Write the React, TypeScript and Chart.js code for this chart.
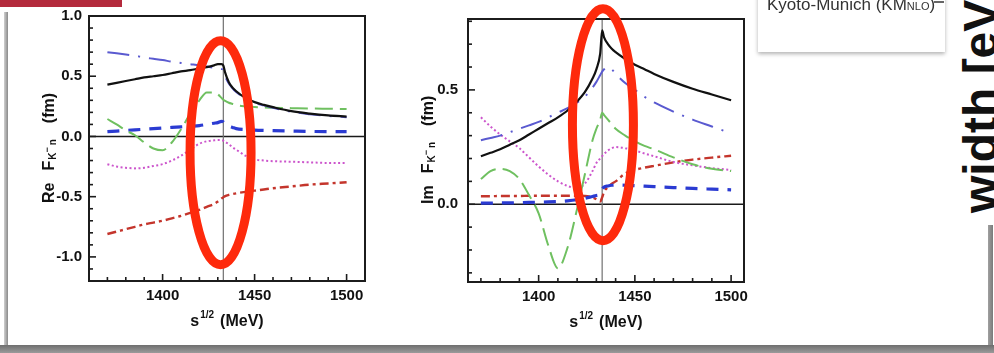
import React, { useEffect, useRef } from 'react';
import { Chart, registerables } from 'chart.js';

Chart.register(...registerables);

// ---------------- data ----------------
const energies = [1370, 1375, 1380, 1385, 1390, 1395, 1400, 1405, 1410, 1415, 1420, 1424, 1428, 1430, 1432, 1433, 1434, 1436, 1438, 1440, 1445, 1450, 1455, 1460, 1470, 1480, 1490, 1500];

// Real part (fm)
const reTotal = [0.43, 0.445, 0.46, 0.475, 0.49, 0.5, 0.51, 0.525, 0.54, 0.55, 0.565, 0.575, 0.59, 0.6, 0.6, 0.59, 0.53, 0.45, 0.405, 0.375, 0.32, 0.285, 0.262, 0.243, 0.21, 0.19, 0.175, 0.165];
const reDashDot = [0.7, 0.69, 0.68, 0.67, 0.655, 0.645, 0.635, 0.62, 0.61, 0.6, 0.59, 0.58, 0.57, 0.565, 0.56, 0.55, 0.5, 0.44, 0.4, 0.37, 0.315, 0.28, 0.258, 0.238, 0.205, 0.185, 0.17, 0.16];
const reLongDash = [0.145, 0.1, 0.05, 0.01, -0.05, -0.1, -0.115, -0.05, 0.06, 0.19, 0.3, 0.365, 0.365, 0.35, 0.32, 0.305, 0.295, 0.28, 0.27, 0.26, 0.25, 0.245, 0.24, 0.238, 0.235, 0.232, 0.23, 0.228];
const reDashed = [0.04, 0.045, 0.05, 0.055, 0.06, 0.065, 0.07, 0.075, 0.08, 0.085, 0.09, 0.1, 0.11, 0.115, 0.125, 0.12, 0.1, 0.085, 0.075, 0.065, 0.058, 0.053, 0.05, 0.048, 0.045, 0.042, 0.04, 0.04];
const reDotted = [-0.23, -0.25, -0.26, -0.265, -0.26, -0.245, -0.23, -0.2, -0.16, -0.11, -0.06, -0.04, -0.032, -0.03, -0.03, -0.035, -0.045, -0.065, -0.09, -0.11, -0.16, -0.19, -0.2, -0.205, -0.21, -0.215, -0.22, -0.22];
const reDashDotRed = [-0.81, -0.79, -0.77, -0.75, -0.73, -0.715, -0.7, -0.68, -0.66, -0.635, -0.61, -0.585, -0.56, -0.54, -0.515, -0.505, -0.495, -0.485, -0.478, -0.472, -0.46, -0.45, -0.44, -0.43, -0.415, -0.4, -0.39, -0.38];

// Imaginary part (fm)
const imTotal = [0.21, 0.225, 0.24, 0.26, 0.28, 0.305, 0.33, 0.355, 0.38, 0.41, 0.45, 0.49, 0.55, 0.59, 0.66, 0.76, 0.73, 0.7, 0.68, 0.665, 0.635, 0.61, 0.59, 0.57, 0.535, 0.505, 0.48, 0.455];
const imDashDot = [0.28, 0.29, 0.3, 0.315, 0.33, 0.345, 0.36, 0.38, 0.4, 0.42, 0.445, 0.47, 0.51, 0.535, 0.565, 0.58, 0.59, 0.6, 0.59, 0.57, 0.53, 0.5, 0.47, 0.445, 0.405, 0.37, 0.34, 0.31];
const imLongDash = [0.11, 0.145, 0.155, 0.145, 0.11, 0.04, -0.04, -0.18, -0.28, -0.19, -0.02, 0.13, 0.28, 0.33, 0.37, 0.4, 0.39, 0.37, 0.35, 0.33, 0.3, 0.275, 0.255, 0.24, 0.205, 0.175, 0.155, 0.145];
const imDashed = [0.005, 0.005, 0.006, 0.006, 0.007, 0.008, 0.009, 0.01, 0.012, 0.015, 0.02, 0.026, 0.034, 0.038, 0.045, 0.065, 0.075, 0.08, 0.083, 0.084, 0.083, 0.081, 0.079, 0.077, 0.073, 0.069, 0.066, 0.063];
const imDotted = [0.38, 0.34, 0.305, 0.275, 0.245, 0.205, 0.165, 0.13, 0.1, 0.08, 0.07, 0.09, 0.145, 0.18, 0.2, 0.21, 0.22, 0.235, 0.245, 0.25, 0.245, 0.235, 0.222, 0.21, 0.185, 0.17, 0.158, 0.15];
const imDashDotRed = [0.035, 0.035, 0.036, 0.036, 0.036, 0.037, 0.037, 0.037, 0.037, 0.037, 0.037, 0.036, 0.03, 0.022, 0.012, 0.03, 0.055, 0.075, 0.09, 0.1, 0.135, 0.15, 0.16, 0.168, 0.183, 0.195, 0.204, 0.212];

const xTickValues = [1400, 1450, 1500];
const reTickValues = [-1.0, -0.5, 0.0, 0.5, 1.0];
const imTickValues = [0.0, 0.5];
const thresholdEnergy = 1433;

// ---------------- styles ----------------
const seriesStyles = [
  { color: '#111111', width: 2.2, dash: [] as number[] },
  { color: '#5a5ad0', width: 2, dash: [22, 9, 2, 9] },
  { color: '#6fc060', width: 2, dash: [18, 7] },
  { color: '#2b3bd2', width: 3.2, dash: [12, 9] },
  { color: '#cc55cc', width: 2, dash: [2, 2.5] },
  { color: '#c4352c', width: 2.4, dash: [9, 4, 3, 4] },
];

function fontAvailable(name: string) {
  try {
    const ctx = document.createElement('canvas').getContext('2d')!;
    const s = 'mwil1400(MeV)Re';
    ctx.font = '40px monospace';
    const a = ctx.measureText(s).width;
    ctx.font = `40px "${name}", monospace`;
    const b = ctx.measureText(s).width;
    return Math.abs(a - b) > 0.5;
  } catch {
    return false;
  }
}

type Part = { t: string; size: number; dy?: number; gap?: number };

function drawParts(ctx: CanvasRenderingContext2D, fam: string, parts: Part[]) {
  let u = 0;
  for (const p of parts) {
    u += p.gap || 0;
    ctx.font = `bold ${p.size}px ${fam}`;
    ctx.fillText(p.t, u, p.dy || 0);
    u += ctx.measureText(p.t).width;
  }
  return u;
}

function partsWidth(ctx: CanvasRenderingContext2D, fam: string, parts: Part[]) {
  let u = 0;
  for (const p of parts) {
    u += p.gap || 0;
    ctx.font = `bold ${p.size}px ${fam}`;
    u += ctx.measureText(p.t).width;
  }
  return u;
}

type Panel = {
  series: number[][];
  xMin: number; xMax: number;
  yMin: number; yMax: number;
  yTicks: number[];
  yAxisWidth: number; xAxisHeight: number; padRight: number; yLabelPad: number;
  yTitle: Part[];
  ellipse: { e: number; v: number; rx: number; ry: number };
};

function buildChart(canvas: HTMLCanvasElement, p: Panel, fam: string, narrow: boolean) {
  const tickSize = narrow ? 17 : 15;
  const titleSize = narrow ? 18 : 16;

  const decor = {
    id: 'panelDecor',
    beforeDatasetsDraw(chart: any) {
      const { ctx, chartArea: a, scales } = chart;
      const x = scales.x, y = scales.y;
      ctx.save();
      const y0 = y.getPixelForValue(0);
      ctx.strokeStyle = '#1a1a1a';
      ctx.lineWidth = 1.5;
      ctx.beginPath(); ctx.moveTo(a.left, y0); ctx.lineTo(a.right, y0); ctx.stroke();
      const xt = x.getPixelForValue(thresholdEnergy);
      ctx.strokeStyle = '#707070';
      ctx.lineWidth = 1.2;
      ctx.beginPath(); ctx.moveTo(xt, a.top); ctx.lineTo(xt, a.bottom); ctx.stroke();
      ctx.restore();
    },
    afterDatasetsDraw(chart: any) {
      const { ctx, chartArea: a, scales } = chart;
      const x = scales.x, y = scales.y;
      ctx.save();
      ctx.strokeStyle = '#1c1c1c';
      ctx.lineWidth = 1.6;
      // minor / major ticks, inward
      for (let k = Math.ceil(p.yMin * 10 - 1e-6); k <= Math.floor(p.yMax * 10 + 1e-6); k++) {
        const py = y.getPixelForValue(k / 10);
        const len = k % 5 === 0 ? 7 : 4;
        ctx.beginPath(); ctx.moveTo(a.left, py); ctx.lineTo(a.left + len, py); ctx.stroke();
      }
      for (let e = 1370; e <= 1500; e += 10) {
        const px = x.getPixelForValue(e);
        const len = e % 50 === 0 ? 7 : 4;
        ctx.beginPath(); ctx.moveTo(px, a.bottom); ctx.lineTo(px, a.bottom - len); ctx.stroke();
      }
      // frame
      ctx.lineWidth = 2;
      ctx.strokeRect(a.left, a.top, a.right - a.left, a.bottom - a.top);
      ctx.restore();
    },
    afterDraw(chart: any) {
      const { ctx, chartArea: a, scales } = chart;
      const x = scales.x, y = scales.y;
      ctx.save();
      ctx.fillStyle = '#111';
      ctx.textAlign = 'left';
      ctx.textBaseline = 'alphabetic';
      // y title
      ctx.save();
      ctx.translate(a.left - 35, a.bottom - 78);
      ctx.rotate(-Math.PI / 2);
      drawParts(ctx, fam, p.yTitle);
      ctx.restore();
      // x title
      const xParts: Part[] = [
        { t: 's', size: titleSize },
        { t: '1/2', size: 10, dy: -8, gap: 1 },
        { t: '(MeV)', size: titleSize, gap: 6 },
      ];
      const w = partsWidth(ctx, fam, xParts);
      ctx.save();
      ctx.translate((a.left + a.right) / 2 - w / 2, a.bottom + 45);
      drawParts(ctx, fam, xParts);
      ctx.restore();
      // highlight ellipse
      const cx = x.getPixelForValue(p.ellipse.e);
      const cy = y.getPixelForValue(p.ellipse.v);
      ctx.strokeStyle = '#fe2a0c';
      ctx.lineWidth = 9;
      ctx.beginPath();
      ctx.ellipse(cx, cy, p.ellipse.rx, p.ellipse.ry, 0, 0, Math.PI * 2);
      ctx.stroke();
      ctx.restore();
    },
  };

  return new Chart(canvas, {
    type: 'line',
    data: {
      datasets: p.series.map((vals, i) => ({
        data: energies.map((e, j) => ({ x: e, y: vals[j] })),
        borderColor: seriesStyles[i].color,
        borderWidth: seriesStyles[i].width,
        borderDash: seriesStyles[i].dash,
        pointRadius: 0,
        fill: false,
        cubicInterpolationMode: 'monotone' as const,
      })),
    },
    options: {
      responsive: false,
      animation: false,
      devicePixelRatio: 1,
      events: [],
      layout: { padding: { left: 0, top: 14, right: p.padRight, bottom: 0 } },
      plugins: { legend: { display: false }, tooltip: { enabled: false }, title: { display: false } },
      scales: {
        x: {
          type: 'linear',
          min: p.xMin,
          max: p.xMax,
          grid: { display: false, drawTicks: false },
          border: { display: false },
          ticks: {
            font: { family: fam, size: tickSize, weight: 'bold' },
            color: '#111',
            padding: 6,
            maxRotation: 0,
            autoSkip: false,
            callback: (v: any) => String(v),
          },
          afterBuildTicks: (ax: any) => { ax.ticks = xTickValues.map((v) => ({ value: v })); },
          afterFit: (ax: any) => { ax.height = p.xAxisHeight; },
        },
        y: {
          type: 'linear',
          min: p.yMin,
          max: p.yMax,
          grid: { display: false, drawTicks: false },
          border: { display: false },
          ticks: {
            font: { family: fam, size: tickSize, weight: 'bold' },
            color: '#111',
            padding: p.yLabelPad,
            autoSkip: false,
            callback: (v: any) => Number(v).toFixed(1),
          },
          afterBuildTicks: (ax: any) => { ax.ticks = p.yTicks.map((v) => ({ value: v })); },
          afterFit: (ax: any) => { ax.width = p.yAxisWidth; },
        },
      },
    },
    plugins: [decor],
  } as any);
}

export default function App() {
  const leftRef = useRef<HTMLCanvasElement>(null);
  const rightRef = useRef<HTMLCanvasElement>(null);

  useEffect(() => {
    const narrow = fontAvailable('Liberation Sans Narrow');
    const fam = narrow ? '"Liberation Sans Narrow", "Liberation Sans", Arial, sans-serif' : '"Liberation Sans", Arial, sans-serif';
    const ts = narrow ? 18 : 16;
    const sub = narrow ? 11 : 10;
    const mkTitle = (head: string): Part[] => [
      { t: head, size: ts },
      { t: 'F', size: ts, gap: 12 },
      { t: 'K', size: sub, dy: 2, gap: 1 },
      { t: '\u2212', size: 9, dy: -4 },
      { t: 'n', size: sub, dy: 2, gap: 2 },
      { t: '(fm)', size: ts, gap: 16 },
    ];
    const left = buildChart(leftRef.current!, {
      series: [reTotal, reDashDot, reLongDash, reDashed, reDotted, reDashDotRed],
      xMin: 1360, xMax: 1510, yMin: -1.2, yMax: 1.0,
      yTicks: reTickValues,
      yAxisWidth: 89, xAxisHeight: 72, padRight: 15, yLabelPad: 7,
      yTitle: mkTitle('Re'),
      ellipse: { e: 1431.5, v: -0.135, rx: 30.5, ry: 112 },
    }, fam, narrow);
    const right = buildChart(rightRef.current!, {
      series: [imTotal, imDashDot, imLongDash, imDashed, imDotted, imDashDotRed],
      xMin: 1363.3, xMax: 1506.7, yMin: -0.34, yMax: 0.81,
      yTicks: imTickValues,
      yAxisWidth: 88, xAxisHeight: 71, padRight: 16, yLabelPad: 10,
      yTitle: mkTitle('Im'),
      ellipse: { e: 1433.4, v: 0.348, rx: 30.5, ry: 116 },
    }, fam, narrow);
    return () => { left.destroy(); right.destroy(); };
  }, []);

  const abs = (s: React.CSSProperties): React.CSSProperties => ({ position: 'absolute', ...s });

  return (
    <div style={{ position: 'fixed', left: 0, top: 0, width: 994, height: 353, overflow: 'hidden', background: '#ffffff' }}>
      {/* slide frame */}
      <div style={abs({ left: 0, top: 0, width: 122, height: 7, background: '#b42a3c' })} />
      <div style={abs({ left: 4, top: 12, width: 4, height: 336, background: 'linear-gradient(to right, #d0d0d0, #8a8a8a)' })} />
      <div style={abs({ left: 988, top: 225, width: 5, height: 123, background: 'linear-gradient(to right, #a0a0a0, #7a7a7a)' })} />
      <div style={abs({ left: 0, top: 345, width: 994, height: 8, background: 'linear-gradient(#6e6e6e, #9a9a9a)' })} />

      <canvas ref={leftRef} width={380} height={353} style={abs({ left: 0, top: 0, width: 380, height: 353 })} />
      <canvas ref={rightRef} width={380} height={353} style={abs({ left: 380, top: 0, width: 380, height: 353 })} />

      {/* legend box (cut off at the top) */}
      <div style={abs({ left: 758, top: -20, width: 187, height: 72, background: '#ffffff', boxShadow: '0 2px 4px rgba(0,0,0,0.3)' })} />
      <div style={abs({ left: 767, top: -4, font: '17px "Liberation Sans", Arial, sans-serif', lineHeight: '17px', color: '#333', whiteSpace: 'nowrap' })}>
        Kyoto-Munich (KM<span style={{ fontSize: 11 }}>NLO</span>)
      </div>
      <div style={abs({ left: 934, top: 1, width: 10, height: 2, background: '#666' })} />

      {/* rotated axis title of the neighbouring plot */}
      <div style={abs({ left: 957, top: 213, transformOrigin: '0 0', transform: 'rotate(-90deg)', font: 'bold 48px "Liberation Sans", Arial, sans-serif', lineHeight: '48px', color: '#111', whiteSpace: 'nowrap' })}>
        width [eV
      </div>
    </div>
  );
}
